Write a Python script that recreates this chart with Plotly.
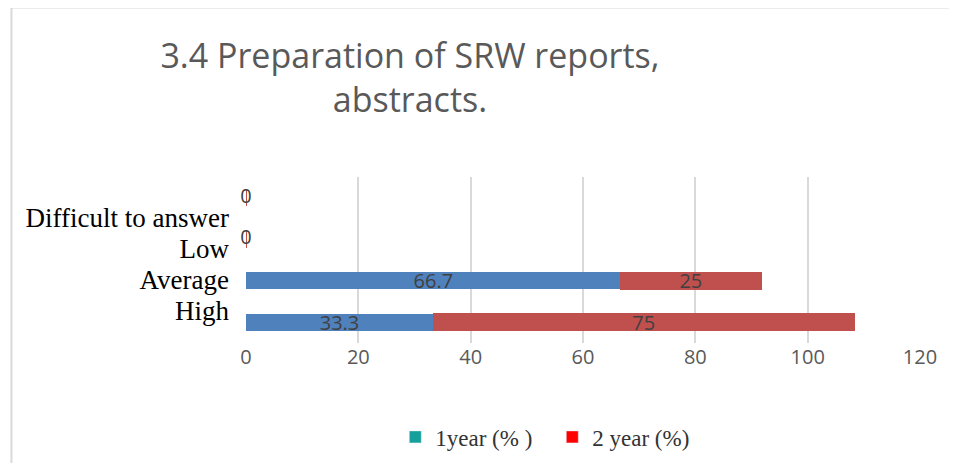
import plotly.graph_objects as go

# ---- data ----
categories = ["High", "Average", "Low", "Difficult to answer"]
year1 = [33.3, 66.7, 0, 0]
year2 = [75, 25, 0, 0]
series_names = ["1year (% )", "2 year (%)"]
x_ticks = [0, 20, 40, 60, 80, 100, 120]
title_text = "3.4 Preparation of SRW reports,<br>abstracts."

BLUE = "#4f81bd"
RED = "#c0504d"
LEG1 = "#17a09b"
LEG2 = "#ff0000"
TXT = "#404040"

# the page body adds an 8px offset; the figure is sized to fit inside the window
W, H = 949, 455

idx = list(range(len(categories)))

def lab(v):
    return "" if v == 0 else (str(v) if v % 1 else str(int(v)))

fig = go.Figure()
fig.add_trace(go.Bar(
    y=idx, x=year1, orientation="h", marker=dict(color=BLUE, line=dict(width=0)),
    text=[lab(v) for v in year1], textposition="inside", insidetextanchor="middle",
    textangle=0, constraintext="none",
    textfont=dict(family="Open Sans", size=20, color=TXT), showlegend=False,
    name=series_names[0], hoverinfo="skip"))
fig.add_trace(go.Bar(
    y=idx, x=year2, orientation="h", marker=dict(color=RED, line=dict(width=1, color=RED)),
    text=[lab(v) for v in year2], textposition="inside", insidetextanchor="middle",
    textangle=0, constraintext="none",
    textfont=dict(family="Open Sans", size=20, color=TXT), showlegend=False,
    name=series_names[1], hoverinfo="skip"))

# zero labels for categories with no responses
zero_y = [i for i in idx if year1[i] + year2[i] == 0]
fig.add_trace(go.Scatter(
    y=zero_y, x=[0] * len(zero_y), mode="text", text=["0"] * len(zero_y),
    textposition="middle center", textfont=dict(family="Open Sans", size=20, color=TXT),
    showlegend=False, hoverinfo="skip", cliponaxis=False))

# legend entries
fig.add_trace(go.Bar(y=[None], x=[None], orientation="h", marker_color=LEG1, name=series_names[0]))
fig.add_trace(go.Bar(y=[None], x=[None], orientation="h", marker_color=LEG2, name=series_names[1]))

# category label axis (offset from bars as in source)
fig.add_trace(go.Scatter(y=idx, x=[0] * len(idx), mode="none", yaxis="y2",
                         showlegend=False, hoverinfo="skip"))

fig.update_layout(
    width=W, height=H,
    margin=dict(l=237.5, r=36.5, t=169, b=120, autoexpand=False),
    paper_bgcolor="white", plot_bgcolor="white",
    barmode="stack", bargap=0.6,
    uniformtext=dict(mode=False),
    title=dict(text=title_text, x=402 / W, xanchor="center", y=1 - 60 / H, yanchor="middle",
               yref="container", automargin=False,
               font=dict(family="Open Sans", size=34, color="#595959")),
    xaxis=dict(range=[0, 120], tickvals=x_ticks, showgrid=True, gridcolor="#d9d9d9", gridwidth=1.5,
               zeroline=False, showline=False, ticks="", automargin=False,
               tickfont=dict(family="Open Sans", size=20, color="#595959")),
    yaxis=dict(range=[-0.5, 3.5], showticklabels=False, showgrid=False, zeroline=False,
               fixedrange=True, automargin=False),
    yaxis2=dict(overlaying="y", side="left", range=[-1.052, 4.32], tickvals=idx, ticktext=categories,
                showgrid=False, zeroline=False, ticks="", ticklabelstandoff=16, automargin=False,
                tickfont=dict(family="Liberation Serif", size=27, color="#000000")),
    legend=dict(orientation="h", x=0.2215, xanchor="left", y=-0.566, yanchor="middle",
                traceorder="normal", entrywidth=112, entrywidthmode="pixels",
                font=dict(family="Liberation Serif", size=23, color="#333333"),
                bgcolor="rgba(0,0,0,0)"),
    shapes=[dict(type="rect", xref="paper", yref="paper", x0=-0.348, x1=1.2, y0=-1.2, y1=2.021,
                 line=dict(color="#d9d9d9", width=2), layer="below")],
)

fig.write_html("out.html")
